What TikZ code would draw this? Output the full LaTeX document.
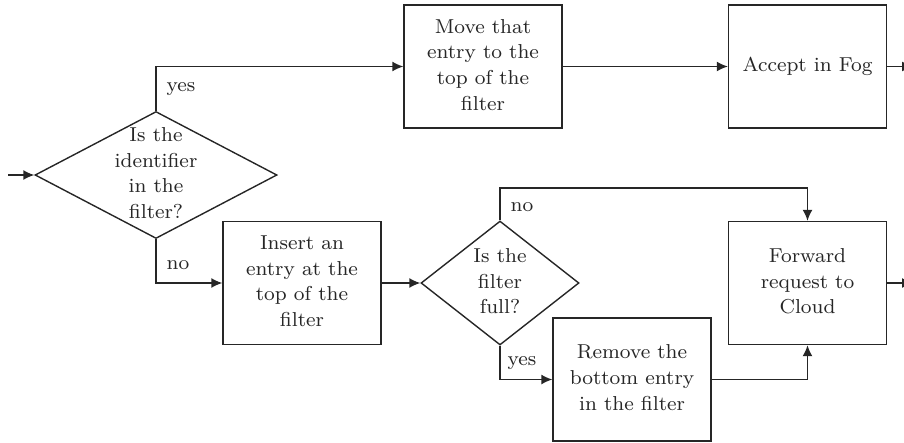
\documentclass[tikz,border=0pt]{standalone}
\usepackage{graphicx}
\usetikzlibrary{shapes.geometric,arrows.meta}
\newcommand{\lbl}[1]{\scalebox{2.52}{\fontsize{8}{10.2}\selectfont\begin{tabular}{@{}c@{}}#1\end{tabular}}}
\begin{document}
\begin{tikzpicture}[x=1pt,y=-1pt,line width=1.4pt,color=black!85,
  box/.style={draw,minimum width=158pt,minimum height=123pt,inner sep=0pt},
  diam/.style={draw,diamond,inner sep=0pt},
  txt/.style={inner sep=0pt},
  arr/.style={draw,-{Latex[length=11pt,width=10pt]}}]
\useasboundingbox (0,0) rectangle (904,442);
\clip (0,0) rectangle (904,442);
% boxes
\node[box] (move) at (483,66.5) {};
\node[txt] at (move) {\lbl{Move that\\entry to the\\top of the\\filter}};
\node[box] (accept) at (807.5,66.5) {};
\node[txt] at (accept) {\lbl{Accept in Fog}};
\node[box] (insert) at (302,283) {};
\node[txt] at (insert) {\lbl{Insert an\\entry at the\\top of the\\filter}};
\node[box] (remove) at (632,379.5) {};
\node[txt] at (remove) {\lbl{Remove the\\bottom entry\\in the filter}};
\node[box] (fwd) at (807.5,283) {};
\node[txt] at (fwd) {\lbl{Forward\\request to\\Cloud}};
% diamonds
\node[diam,minimum width=242pt,minimum height=127pt] (d1) at (156,175) {};
\node[txt] at (d1) {\lbl{Is the\\identifier\\in the\\filter?}};
\node[diam,minimum width=158pt,minimum height=124pt] (d2) at (500,283) {};
\node[txt] at (d2) {\lbl{Is the\\filter\\full?}};
% coordinates
\coordinate (in) at (8,175);
\coordinate (out1) at (913,66.5);
\coordinate (out2) at (913,283);
\coordinate (n2) at (500,188);
% connectors
\draw[arr] (in) -- (d1.west);
\draw[arr] (d1.north) |- (move.west);
\draw[arr] (move.east) -- (accept.west);
\draw[arr] (accept.east) -- (out1);
\draw[arr] (d1.south) |- (insert.west);
\draw[arr] (insert.east) -- (d2.west);
\draw[arr] (d2.north) -- (n2) -| (fwd.north);
\draw[arr] (d2.south) |- (remove.west);
\draw[arr] (remove.east) -| (fwd.south);
\draw[arr] (fwd.east) -- (out2);
% labels
\node[txt,anchor=west] at (166,86) {\lbl{yes}};
\node[txt,anchor=west] at (166,264) {\lbl{no}};
\node[txt,anchor=west] at (510,206) {\lbl{no}};
\node[txt,anchor=west] at (507,360) {\lbl{yes}};
\end{tikzpicture}
\end{document}
